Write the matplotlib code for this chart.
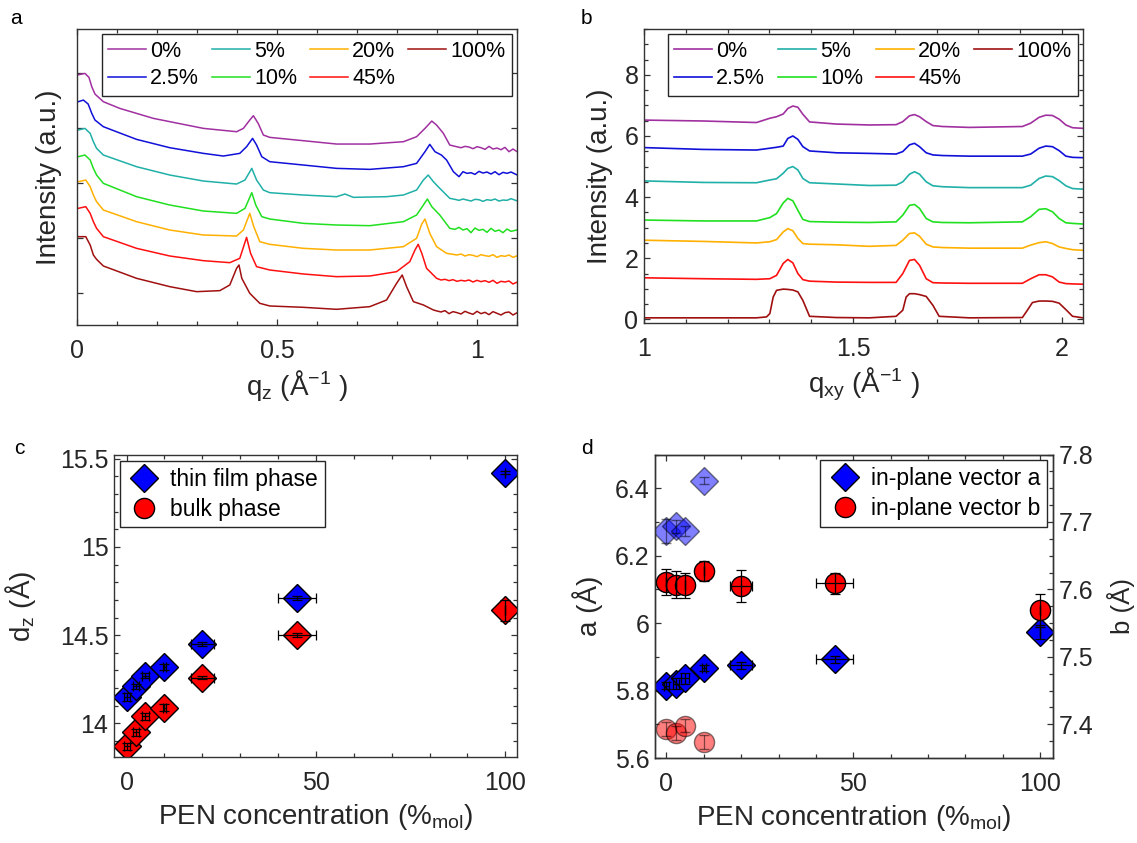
import matplotlib
matplotlib.use("Agg")
import matplotlib.pyplot as plt
from matplotlib.lines import Line2D
from matplotlib.ticker import MultipleLocator, FuncFormatter

plt.rcParams['font.family'] = ['Liberation Sans', 'DejaVu Sans']
plt.rcParams['mathtext.fontset'] = 'custom'
plt.rcParams['mathtext.rm'] = 'Liberation Sans'
plt.rcParams['mathtext.it'] = 'Liberation Sans:italic'

# ---------------- data ----------------
conc_labels = ['0%', '2.5%', '5%', '10%', '20%', '45%', '100%']
line_colors = ['#a030a0', '#1010d8', '#20b0a8', '#20e020', '#ffb000', '#ff1010', '#a01010']

# (a) out-of-plane cuts, q_z in 1/A, intensity offset (a.u.)
qz_0 = [0.0, 0.02, 0.03, 0.037, 0.045, 0.066, 0.107, 0.191, 0.316, 0.399, 0.416, 0.432, 0.441, 0.453,
        0.466, 0.482, 0.566, 0.649, 0.732, 0.816, 0.849, 0.870, 0.887, 0.899, 0.916, 0.932,
        0.949, 0.96, 0.97, 0.98, 0.99, 1.00, 1.01, 1.02, 1.03, 1.04, 1.05, 1.06, 1.07, 1.08, 1.09, 1.099]
iz_0 = [7.35, 7.40, 7.28, 7.00, 6.78, 6.55, 6.35, 6.05, 5.75, 5.65, 5.75, 6.00, 6.13, 5.90,
        5.55, 5.48, 5.38, 5.28, 5.28, 5.35, 5.50, 5.75, 5.97, 5.85, 5.60, 5.25,
        5.20, 5.17, 5.21, 5.19, 5.14, 5.20, 5.17, 5.12, 5.21, 5.13, 5.16, 5.11, 5.18, 5.05, 5.13, 5.06]
qz_2p5 = [0.003, 0.016, 0.028, 0.037, 0.045, 0.066, 0.149, 0.232, 0.316, 0.366, 0.407, 0.424, 0.439,
          0.449, 0.462, 0.482, 0.566, 0.649, 0.732, 0.816, 0.849, 0.870, 0.882, 0.895, 0.911, 0.924,
          0.941, 0.955, 0.965, 0.975, 0.985, 0.995, 1.005, 1.015, 1.025, 1.035, 1.045, 1.055, 1.065,
          1.075, 1.085, 1.099]
iz_2p5 = [6.55, 6.60, 6.48, 6.20, 6.00, 5.80, 5.42, 5.17, 5.00, 4.92, 5.00, 5.20, 5.45,
          5.25, 4.90, 4.75, 4.65, 4.55, 4.52, 4.60, 4.70, 5.05, 5.27, 5.05, 4.95, 4.80,
          4.45, 4.30, 4.45, 4.40, 4.42, 4.37, 4.46, 4.41, 4.44, 4.38, 4.45, 4.36, 4.43,
          4.40, 4.44, 4.36]
qz_5 = [0.003, 0.020, 0.033, 0.041, 0.049, 0.066, 0.149, 0.232, 0.316, 0.399, 0.420, 0.437, 0.449,
        0.466, 0.482, 0.566, 0.649, 0.670, 0.691, 0.774, 0.816, 0.849, 0.866, 0.878, 0.891, 0.907, 0.932,
        0.945, 0.955, 0.965, 0.975, 0.985, 0.995, 1.005, 1.015, 1.025, 1.035, 1.045, 1.055, 1.065,
        1.075, 1.085, 1.099]
iz_5 = [5.70, 5.75, 5.60, 5.35, 5.15, 4.95, 4.60, 4.35, 4.17, 4.08, 4.20, 4.55, 4.20,
        3.90, 3.82, 3.75, 3.70, 3.78, 3.68, 3.70, 3.75, 3.90, 4.20, 4.35, 4.15, 3.95, 3.65,
        3.62, 3.59, 3.63, 3.60, 3.57, 3.62, 3.61, 3.56, 3.61, 3.59, 3.63, 3.57, 3.60,
        3.59, 3.64, 3.58]
qz_10 = [0.003, 0.020, 0.033, 0.041, 0.049, 0.066, 0.149, 0.232, 0.316, 0.399, 0.420, 0.437, 0.447,
         0.462, 0.482, 0.566, 0.649, 0.732, 0.816, 0.849, 0.866, 0.876, 0.887, 0.907, 0.932,
         0.945, 0.955, 0.965, 0.975, 0.985, 0.995, 1.005, 1.015, 1.025, 1.035, 1.045, 1.055, 1.065,
         1.075, 1.085, 1.099]
iz_10 = [4.90, 4.95, 4.80, 4.55, 4.35, 4.10, 3.70, 3.45, 3.27, 3.20, 3.35, 3.82, 3.45,
         3.10, 3.03, 2.90, 2.85, 2.83, 2.95, 3.15, 3.45, 3.63, 3.40, 3.15, 2.75,
         2.72, 2.78, 2.70, 2.74, 2.62, 2.76, 2.69, 2.72, 2.63, 2.75, 2.66, 2.70, 2.62,
         2.73, 2.66, 2.70]
qz_20 = [0.003, 0.022, 0.033, 0.041, 0.049, 0.066, 0.149, 0.232, 0.316, 0.399, 0.416, 0.432, 0.442,
         0.457, 0.482, 0.566, 0.649, 0.732, 0.816, 0.849, 0.862, 0.870, 0.882, 0.899, 0.924,
         0.94, 0.95, 0.96, 0.97, 0.98, 0.99, 1.0, 1.01, 1.02, 1.03, 1.04, 1.05, 1.06, 1.07, 1.08, 1.09, 1.099]
iz_20 = [4.15, 4.20, 4.00, 3.75, 3.55, 3.30, 2.95, 2.70, 2.55, 2.52, 2.70, 3.20, 2.80,
         2.35, 2.27, 2.15, 2.10, 2.10, 2.20, 2.45, 2.88, 3.03, 2.60, 2.20, 2.00,
         1.97, 1.95, 1.98, 1.92, 1.96, 1.94, 1.90, 1.96, 1.93, 1.91, 1.96, 1.88, 1.93, 1.91, 1.95, 1.88, 1.92]
qz_45 = [0.003, 0.022, 0.033, 0.041, 0.049, 0.066, 0.149, 0.232, 0.316, 0.382, 0.407, 0.424, 0.434,
         0.449, 0.482, 0.566, 0.649, 0.732, 0.799, 0.832, 0.845, 0.853, 0.862, 0.874, 0.899,
         0.91, 0.92, 0.93, 0.94, 0.95, 0.96, 0.97, 0.98, 0.99, 1.0, 1.01, 1.02, 1.03, 1.04, 1.05,
         1.06, 1.07, 1.08, 1.09, 1.099]
iz_45 = [3.35, 3.40, 3.20, 2.95, 2.75, 2.50, 2.15, 1.92, 1.78, 1.72, 1.85, 2.48, 2.00,
         1.60, 1.50, 1.38, 1.30, 1.32, 1.45, 1.75, 2.10, 2.27, 2.00, 1.55, 1.25,
         1.20, 1.22, 1.18, 1.21, 1.16, 1.19, 1.17, 1.20, 1.14, 1.19, 1.15, 1.18, 1.13, 1.19, 1.10,
         1.16, 1.14, 1.17, 1.08, 1.13]
qz_100 = [0.003, 0.022, 0.033, 0.041, 0.049, 0.066, 0.149, 0.232, 0.299, 0.357, 0.382, 0.399, 0.405,
          0.412, 0.432, 0.457, 0.482, 0.566, 0.649, 0.732, 0.774, 0.799, 0.813, 0.824, 0.841, 0.866, 0.891,
          0.90, 0.91, 0.92, 0.93, 0.94, 0.95, 0.96, 0.97, 0.98, 0.99, 1.0, 1.01, 1.02, 1.03, 1.04,
          1.05, 1.06, 1.07, 1.08, 1.09, 1.099]
iz_100 = [2.50, 2.50, 2.25, 1.95, 1.82, 1.62, 1.25, 1.00, 0.85, 0.88, 1.05, 1.55, 1.65,
          1.25, 0.80, 0.50, 0.42, 0.38, 0.32, 0.40, 0.60, 1.10, 1.35, 1.00, 0.55, 0.45, 0.30,
          0.27, 0.24, 0.28, 0.19, 0.25, 0.22, 0.18, 0.26, 0.21, 0.17, 0.26, 0.19, 0.23, 0.16, 0.25,
          0.20, 0.15, 0.22, 0.24, 0.15, 0.21]

# (b) in-plane cuts, q_xy in 1/A
qxy = [1.00, 1.142, 1.269, 1.301, 1.317, 1.333, 1.344, 1.356, 1.368, 1.380, 1.396, 1.46, 1.539, 1.603, 1.619,
       1.635, 1.647, 1.659, 1.675, 1.691, 1.714, 1.778, 1.905, 1.925, 1.945, 1.961, 1.977, 1.993, 2.009, 2.025, 2.05]
ixy_0 = [6.52, 6.49, 6.44, 6.58, 6.63, 6.72, 6.90, 6.98, 6.94, 6.71, 6.46, 6.39, 6.36, 6.37, 6.47,
         6.66, 6.70, 6.63, 6.47, 6.34, 6.31, 6.28, 6.31, 6.42, 6.61, 6.68, 6.67, 6.55, 6.36, 6.27, 6.25]
ixy_2p5 = [5.62, 5.56, 5.54, 5.60, 5.63, 5.67, 5.92, 6.00, 5.89, 5.65, 5.51, 5.45, 5.43, 5.41, 5.49,
           5.71, 5.76, 5.65, 5.45, 5.38, 5.36, 5.34, 5.34, 5.41, 5.60, 5.67, 5.65, 5.52, 5.34, 5.30, 5.29]
ixy_5 = [4.53, 4.48, 4.47, 4.56, 4.60, 4.78, 4.94, 5.00, 4.89, 4.61, 4.47, 4.43, 4.38, 4.39, 4.50,
         4.75, 4.83, 4.75, 4.50, 4.37, 4.34, 4.31, 4.31, 4.39, 4.61, 4.69, 4.67, 4.54, 4.37, 4.28, 4.26]
ixy_10 = [3.25, 3.22, 3.22, 3.33, 3.46, 3.81, 3.96, 3.88, 3.57, 3.27, 3.20, 3.18, 3.17, 3.19, 3.41,
          3.73, 3.76, 3.63, 3.30, 3.19, 3.17, 3.16, 3.19, 3.36, 3.60, 3.62, 3.52, 3.30, 3.16, 3.14, 3.12]
ixy_20 = [2.59, 2.55, 2.50, 2.54, 2.61, 2.86, 2.97, 2.90, 2.65, 2.48, 2.46, 2.44, 2.39, 2.42, 2.59,
          2.81, 2.83, 2.72, 2.46, 2.37, 2.35, 2.33, 2.33, 2.43, 2.51, 2.54, 2.48, 2.37, 2.32, 2.28, 2.26]
ixy_45 = [1.36, 1.33, 1.31, 1.33, 1.44, 1.83, 1.96, 1.85, 1.50, 1.30, 1.25, 1.22, 1.21, 1.21, 1.50,
          1.93, 1.96, 1.77, 1.33, 1.20, 1.19, 1.18, 1.18, 1.33, 1.46, 1.46, 1.39, 1.22, 1.17, 1.16, 1.15]
qxy_100 = [1.00, 1.142, 1.269, 1.293, 1.301, 1.309, 1.317, 1.333, 1.344, 1.356, 1.368, 1.380, 1.396, 1.46,
           1.539, 1.603, 1.619, 1.627, 1.635, 1.647, 1.659, 1.675, 1.691, 1.706, 1.778, 1.905, 1.917, 1.929,
           1.945, 1.961, 1.977, 1.993, 2.009, 2.025, 2.05]
ixy_100 = [0.05, 0.05, 0.05, 0.08, 0.19, 0.73, 0.95, 0.99, 0.98, 0.96, 0.90, 0.62, 0.10, 0.06,
           0.05, 0.10, 0.30, 0.73, 0.84, 0.84, 0.81, 0.75, 0.46, 0.10, 0.05, 0.06, 0.30, 0.55,
           0.60, 0.60, 0.59, 0.53, 0.32, 0.10, 0.05]

# (c) d-spacing vs PEN concentration
pen = [0, 2.5, 5, 10, 20, 45, 100]
pen_err = [0.8, 0.8, 1.0, 0.5, 3, 5, 0]
dz_thin = [14.15, 14.21, 14.27, 14.32, 14.45, 14.71, 15.42]
dz_thin_err = [0.02, 0.015, 0.015, 0.015, 0.01, 0.01, 0.01]
dz_bulk = [13.87, 13.95, 14.04, 14.09, 14.26, 14.50, 14.64]
dz_bulk_err = [0.02, 0.02, 0.02, 0.02, 0.01, 0.01, 0.06]

# (d) in-plane lattice vectors
a_vec = [5.814, 5.821, 5.836, 5.867, 5.875, 5.893, 5.974]
a_err = [0.01, 0.015, 0.015, 0.01, 0.01, 0.01, 0.02]
b_vec = [7.611, 7.607, 7.606, 7.627, 7.605, 7.609, 7.569]
b_err = [0.02, 0.02, 0.018, 0.015, 0.024, 0.016, 0.024]
b_xerr = [0, 0, 0, 0, 3, 5, 0]
pen_low = [0, 2.5, 5, 10]
a_faded = [6.274, 6.287, 6.274, 6.422]
a_faded_err = [0.035, 0.02, 0.015, 0.01]
b_faded = [7.393, 7.387, 7.398, 7.374]
b_faded_err = [0.01, 0.01, 0.01, 0.01]

# ---------------- figure ----------------
TICK_FS = 18
LABEL_FS = 20
LEG_FS = 15.5
LEG_FS_CD = 16.5
AXC = '0.2'

fig = plt.figure(figsize=(11.37, 8.43), dpi=100)
ax_a = fig.add_axes([0.0677, 0.6145, 0.387, 0.351])
ax_b = fig.add_axes([0.5664, 0.6168, 0.3861, 0.3488])
ax_c = fig.add_axes([0.1003, 0.102, 0.3544, 0.3582])
ax_d = fig.add_axes([0.576, 0.1008, 0.350, 0.360])

fmt_g = FuncFormatter(lambda v, p: f'{v:g}')


def style(ax, right=True):
    for s in ax.spines.values():
        s.set_color(AXC)
        s.set_linewidth(1.0)
    ax.tick_params(which='both', direction='in', top=True, right=right,
                   colors=AXC, labelcolor='0.15', labelsize=TICK_FS, width=0.9)
    ax.tick_params(which='major', length=4.5)
    ax.tick_params(which='minor', length=3)
    ax.tick_params(axis='x', pad=10)
    ax.tick_params(axis='y', pad=4)


def frame(leg):
    leg.get_frame().set_edgecolor('0.15')
    leg.get_frame().set_linewidth(1.0)


# panel a
qz_sets = [qz_0, qz_2p5, qz_5, qz_10, qz_20, qz_45, qz_100]
iz_sets = [iz_0, iz_2p5, iz_5, iz_10, iz_20, iz_45, iz_100]
for q, i, c, lab in zip(qz_sets, iz_sets, line_colors, conc_labels):
    ax_a.plot(q, i, color=c, lw=1.1, label=lab)
ax_a.set_xlim(0, 1.1)
ax_a.set_ylim(-0.15, 8.73)
ax_a.xaxis.set_major_locator(MultipleLocator(0.5))
ax_a.xaxis.set_minor_locator(MultipleLocator(0.1))
ax_a.xaxis.set_major_formatter(fmt_g)
ax_a.set_yticks([0.81, 2.46, 4.11, 5.76, 7.41])
ax_a.set_yticklabels([])
style(ax_a)
ax_a.set_ylabel('Intensity (a.u.)', fontsize=LABEL_FS, color='0.15')
ax_a.yaxis.set_label_coords(-0.034, 0.5)
ax_a.set_xlabel(r'q$_\mathrm{z}$ (Å$^{\mathrm{-1}}$ )', fontsize=LABEL_FS, color='0.15')
ax_a.xaxis.set_label_coords(0.5, -0.145)

# panel b
ixy_sets = [ixy_0, ixy_2p5, ixy_5, ixy_10, ixy_20, ixy_45]
for i, c, lab in zip(ixy_sets, line_colors[:6], conc_labels[:6]):
    ax_b.plot(qxy, i, color=c, lw=1.2, label=lab)
ax_b.plot(qxy_100, ixy_100, color=line_colors[6], lw=1.2, label=conc_labels[6])
ax_b.set_xlim(1, 2.05)
ax_b.set_ylim(-0.12, 9.5)
ax_b.xaxis.set_major_locator(MultipleLocator(0.5))
ax_b.xaxis.set_minor_locator(MultipleLocator(0.1))
ax_b.xaxis.set_major_formatter(fmt_g)
ax_b.yaxis.set_major_locator(MultipleLocator(2))
ax_b.yaxis.set_minor_locator(MultipleLocator(0.5))
style(ax_b)
ax_b.set_ylabel('Intensity (a.u.)', fontsize=LABEL_FS, color='0.15')
ax_b.yaxis.set_label_coords(-0.071, 0.5)
ax_b.set_xlabel(r'q$_\mathrm{xy}$ (Å$^{\mathrm{-1}}$ )', fontsize=LABEL_FS, color='0.15')
ax_b.xaxis.set_label_coords(0.5, -0.145)

for ax in (ax_a, ax_b):
    frame(ax.legend(loc='upper right', ncol=4, fontsize=LEG_FS, handlelength=1.75,
                    handletextpad=0.2, columnspacing=0.6, labelspacing=0.3,
                    borderpad=0.3, borderaxespad=0.25, fancybox=False, framealpha=1))

# panel c
MS_D = 14
MS_O = 14.5
ax_c.plot(pen, dz_thin, ls='none', marker='D', ms=MS_D, mfc='#0000ff', mec='k', mew=1.0, zorder=2)
ax_c.plot(pen, dz_bulk, ls='none', marker='D', ms=MS_D, mfc='#ff0000', mec='k', mew=1.0, zorder=2)
ax_c.errorbar(pen, dz_thin, xerr=pen_err, yerr=dz_thin_err, fmt='none', ecolor='k',
              elinewidth=0.9, capsize=3.5, capthick=0.9, zorder=3)
ax_c.errorbar(pen, dz_bulk, xerr=pen_err, yerr=dz_bulk_err, fmt='none', ecolor='k',
              elinewidth=0.9, capsize=3.5, capthick=0.9, zorder=3)
ax_c.set_xlim(-3.3, 103.1)
ax_c.set_ylim(13.81, 15.52)
ax_c.xaxis.set_major_locator(MultipleLocator(50))
ax_c.xaxis.set_minor_locator(MultipleLocator(10))
ax_c.yaxis.set_major_locator(MultipleLocator(0.5))
ax_c.yaxis.set_minor_locator(MultipleLocator(0.1))
ax_c.xaxis.set_major_formatter(fmt_g)
ax_c.yaxis.set_major_formatter(fmt_g)
style(ax_c)
ax_c.set_ylabel(r'd$_\mathrm{z}$ (Å)', fontsize=LABEL_FS, color='0.15')
ax_c.yaxis.set_label_coords(-0.188, 0.5)
ax_c.set_xlabel(r'PEN concentration (%$_\mathrm{mol}$)', fontsize=LABEL_FS, color='0.15')
ax_c.xaxis.set_label_coords(0.5, -0.148)
h_c = [Line2D([], [], ls='none', marker='D', ms=MS_D, mfc='#0000ff', mec='k'),
       Line2D([], [], ls='none', marker='o', ms=MS_O, mfc='#ff0000', mec='k')]
frame(ax_c.legend(h_c, ['thin film phase', 'bulk phase'], loc='upper left', fontsize=LEG_FS_CD,
                  handlelength=1.5, handletextpad=0.4, borderpad=0.3, labelspacing=0.3,
                  borderaxespad=0.25, fancybox=False, framealpha=1))

# panel d
ax_d2 = ax_d.twinx()
ax_d.plot(pen_low, a_faded, ls='none', marker='D', ms=MS_D, mfc='#0000ff', mec='k', alpha=0.5, zorder=2)
ax_d.errorbar(pen_low, a_faded, yerr=a_faded_err, fmt='none', ecolor='k', alpha=0.5,
              elinewidth=0.9, capsize=3.5, zorder=3)
ax_d.plot(pen, a_vec, ls='none', marker='D', ms=MS_D, mfc='#0000ff', mec='k', mew=1.0, zorder=2)
ax_d.errorbar(pen, a_vec, xerr=pen_err, yerr=a_err, fmt='none', ecolor='k',
              elinewidth=0.9, capsize=3.5, capthick=0.9, zorder=3)
ax_d2.plot(pen_low, b_faded, ls='none', marker='o', ms=MS_O, mfc='#ff0000', mec='k', alpha=0.5, zorder=2)
ax_d2.errorbar(pen_low, b_faded, yerr=b_faded_err, fmt='none', ecolor='k', alpha=0.5,
               elinewidth=0.9, capsize=3.5, zorder=3)
ax_d2.plot(pen, b_vec, ls='none', marker='o', ms=MS_O, mfc='#ff0000', mec='k', mew=1.0, zorder=2)
ax_d2.errorbar(pen, b_vec, xerr=b_xerr, yerr=b_err, fmt='none', ecolor='k',
               elinewidth=0.9, capsize=3.5, capthick=0.9, zorder=3)
ax_d.set_xlim(-3.1, 103.4)
ax_d.set_ylim(5.6, 6.5)
ax_d2.set_ylim(7.35, 7.8)
ax_d.xaxis.set_major_locator(MultipleLocator(50))
ax_d.xaxis.set_minor_locator(MultipleLocator(10))
ax_d.yaxis.set_major_locator(MultipleLocator(0.2))
ax_d.yaxis.set_minor_locator(MultipleLocator(0.1))
ax_d2.yaxis.set_major_locator(MultipleLocator(0.1))
ax_d2.yaxis.set_minor_locator(MultipleLocator(0.025))
ax_d.xaxis.set_major_formatter(fmt_g)
ax_d.yaxis.set_major_formatter(fmt_g)
ax_d2.yaxis.set_major_formatter(fmt_g)
style(ax_d, right=False)
for s in ax_d2.spines.values():
    s.set_color(AXC)
    s.set_linewidth(1.0)
ax_d2.tick_params(which='both', direction='in', right=True, left=False, top=False, bottom=False,
                  colors=AXC, labelcolor='0.15', labelsize=TICK_FS, width=0.9, pad=4)
ax_d2.tick_params(which='major', length=4.5)
ax_d2.tick_params(which='minor', length=3)
ax_d.set_ylabel('a (Å)', fontsize=LABEL_FS, color='0.15')
ax_d.yaxis.set_label_coords(-0.131, 0.5)
ax_d2.set_ylabel('b (Å)', fontsize=18.5, color='0.15')
ax_d2.yaxis.set_label_coords(1.136, 0.5)
ax_d.set_xlabel(r'PEN concentration (%$_\mathrm{mol}$)', fontsize=LABEL_FS, color='0.15')
ax_d.xaxis.set_label_coords(0.5, -0.148)
h_d = [Line2D([], [], ls='none', marker='D', ms=MS_D, mfc='#0000ff', mec='k'),
       Line2D([], [], ls='none', marker='o', ms=MS_O, mfc='#ff0000', mec='k')]
frame(ax_d2.legend(h_d, ['in-plane vector a', 'in-plane vector b'], loc='upper right',
                   fontsize=LEG_FS_CD, handlelength=1.5, handletextpad=0.4, borderpad=0.3,
                   labelspacing=0.3, borderaxespad=0.25, fancybox=False, framealpha=1))

# panel letters
for x, y, t in [(0.009, 0.978, 'a'), (0.511, 0.978, 'b'), (0.012, 0.468, 'c'), (0.511, 0.468, 'd')]:
    fig.text(x, y, t, fontsize=15, ha='left', va='center')

fig.savefig('out.png', dpi=100)
